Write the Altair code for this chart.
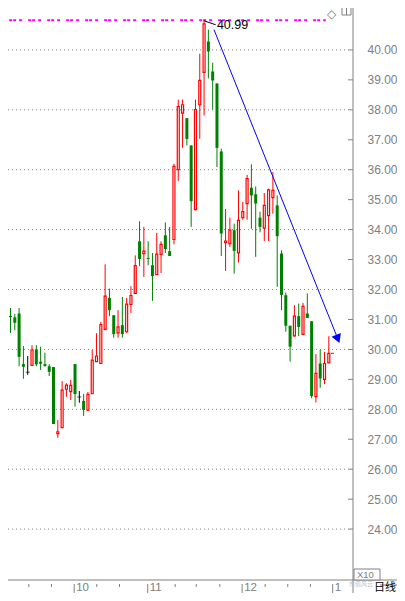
import altair as alt
import pandas as pd

# ---------------- data ----------------
opens = [30.95, 31.12, 31.07, 31.20, 29.51, 29.24, 29.47, 30.00, 29.59, 29.51,
         29.44, 29.41, 27.19, 27.39, 28.67, 28.59, 29.51, 28.41, 28.28, 27.97,
         28.52, 29.59, 29.53, 30.67, 31.72, 31.14, 30.55, 30.81, 30.59, 31.50,
         31.87, 33.61, 33.20, 33.05, 32.81, 32.50, 33.17, 33.81, 33.28, 33.67,
         36.00, 37.89, 37.72, 36.81, 34.67, 38.17, 39.25, 40.28, 39.28, 38.88,
         36.61, 33.57, 33.53, 33.98, 33.22, 34.40, 34.87, 35.40, 35.18, 34.40,
         34.05, 34.47, 35.07, 34.81, 33.20, 31.81, 30.79, 30.45, 31.11, 30.50,
         31.20, 30.94, 28.42, 29.53, 29.00, 29.55]
highs = [31.20, 31.38, 31.18, 31.38, 30.11, 29.78, 30.14, 30.14, 30.09, 29.89,
         29.51, 29.41, 27.64, 28.94, 28.87, 28.98, 29.51, 28.61, 28.51, 28.58,
         29.98, 30.54, 30.92, 32.84, 32.03, 31.14, 31.31, 31.75, 31.72, 32.11,
         33.14, 34.28, 34.09, 33.61, 33.22, 33.89, 33.61, 34.24, 34.09, 36.20,
         38.34, 38.34, 37.72, 36.81, 38.34, 39.87, 40.99, 40.68, 39.57, 38.88,
         36.70, 34.69, 34.40, 34.20, 35.31, 34.92, 35.83, 36.18, 35.44, 34.60,
         35.22, 35.37, 35.92, 35.14, 33.31, 31.90, 30.79, 31.48, 31.53, 31.55,
         31.87, 30.94, 29.84, 29.98, 29.92, 30.44]
lows = [30.80, 30.55, 30.64, 29.44, 29.02, 29.15, 29.45, 29.44, 29.31, 29.42,
        29.11, 27.51, 27.05, 27.39, 28.42, 28.31, 28.09, 28.22, 27.78, 27.95,
        28.52, 29.59, 29.53, 30.64, 31.11, 30.39, 30.39, 30.39, 30.55, 31.22,
        31.87, 32.78, 32.42, 32.81, 31.62, 32.50, 32.55, 33.22, 33.12, 33.51,
        35.62, 36.73, 36.81, 34.09, 34.67, 37.03, 37.81, 39.05, 38.01, 36.09,
        33.12, 32.62, 33.42, 32.53, 32.90, 34.33, 34.33, 34.03, 33.09, 33.91,
        33.62, 33.62, 34.53, 32.09, 31.31, 30.59, 29.59, 30.42, 30.44, 30.50,
        31.05, 28.37, 28.23, 28.72, 28.84, 29.55]
closes = [31.12, 31.08, 30.89, 29.75, 29.42, 29.24, 29.98, 29.50, 29.52, 29.45,
          29.25, 27.51, 27.25, 28.64, 28.81, 28.80, 28.51, 28.41, 27.98, 28.50,
          29.64, 29.78, 30.83, 31.78, 31.31, 30.51, 30.75, 30.51, 31.51, 31.80,
          32.80, 33.02, 33.28, 33.02, 32.45, 33.18, 33.51, 33.35, 33.12, 36.11,
          38.11, 38.17, 37.03, 34.95, 38.01, 38.98, 40.87, 39.95, 38.98, 36.73,
          33.87, 33.62, 33.98, 33.29, 34.31, 34.60, 35.70, 35.14, 34.87, 34.09,
          34.81, 35.33, 35.31, 33.78, 31.82, 30.79, 30.09, 31.11, 30.75, 31.44,
          31.05, 28.44, 29.20, 29.03, 29.53, 29.87]

price_ticks = list(range(24, 41))
grid_prices = list(range(24, 41, 2))
month_labels = ["10", "11", "12", "1"]
month_pos = [15.8, 32.9, 54.85, 75.9]
week_ticks = [5.26, 10.54, 21.06, 26.34, 39.28, 44.18, 49.66, 60.2, 65.46, 70.72]
peak_price = 40.99
peak_label = "40.99"
peak_line_x = [0.68, 74.3]
trend_x = [48.3, 77.1]
trend_p = [40.68, 30.35]
leader_x = [46.05, 48.7]
leader_p = [40.97, 40.84]
label_pos = [48.98, 40.82]
last_mark_x = 75.85

# ---------------- layout ----------------
W, H = 345, 572
RP, BP = 44, 13          # right / bottom room (svg = 389 x 585)
GRAY = "#808080"
RED = "#ff0000"
GREEN = "#008000"

xs = alt.Scale(domain=[1.58, 79.46], nice=False, zero=False)
ys = alt.Scale(domain=[22.30, 41.40], nice=False, zero=False)
yaxis = alt.Axis(orient="right", values=price_ticks, format=".2f", grid=False,
                 ticks=False, domain=False, labelColor=GRAY, labelFont="Liberation Sans",
                 labelFontSize=12, labelPadding=14, labelAlign="left",
                 labelBaseline="middle", title=None, labelFlush=False)


def X(f):
    return alt.X(f, type="quantitative", scale=xs, axis=None)


def Y(f):
    return alt.Y(f, type="quantitative", scale=ys, axis=yaxis)


kinds = []
for o, c in zip(opens, closes):
    kinds.append("up" if c > o else ("down" if c < o else "flat"))
cols = {"up": RED, "down": GREEN, "flat": "#000000"}
df = pd.DataFrame({"i": list(range(len(opens))), "open": opens, "high": highs,
                   "low": lows, "close": closes, "kind": kinds})
df["col"] = df["kind"].map(cols)

one = pd.DataFrame({"a": [0]})

grid = alt.Chart(pd.DataFrame({"p": grid_prices})).mark_rule(
    color=GRAY, strokeDash=[1, 3], strokeWidth=1).encode(
    y=Y("p"), x=alt.value(0), x2=alt.value(W - 5))
inticks = alt.Chart(pd.DataFrame({"p": price_ticks})).mark_rule(
    color=GRAY, strokeWidth=1).encode(
    y=Y("p"), x=alt.value(W - 5), x2=alt.value(W))
vline = alt.Chart(one).mark_rule(color=GRAY, strokeWidth=1).encode(
    x=alt.value(W), y=alt.value(0), y2=alt.value(H + BP))
bline = alt.Chart(one).mark_rule(color=GRAY, strokeWidth=1).encode(
    x=alt.value(0), x2=alt.value(W + RP), y=alt.value(H))
bline2 = alt.Chart(one).mark_rule(color=GRAY, strokeWidth=1).encode(
    x=alt.value(W + 27), x2=alt.value(W + RP), y=alt.value(H + 5))

peak_df = pd.DataFrame({"x0": [peak_line_x[0]], "x1": [peak_line_x[1]], "p": [peak_price]})
magenta = alt.Chart(peak_df).mark_rule(color="#ff00ff", strokeWidth=2,
                                       strokeDash=[3, 1, 3, 3, 3, 6], clip=True).encode(
    x=X("x0"), x2=alt.X2("x1"), y=Y("p"))

wicks = alt.Chart(df).mark_rule(strokeWidth=1, clip=True).encode(
    x=X("i"), y=Y("low"), y2=alt.Y2("high"), color=alt.Color("col:N", scale=None))
down = alt.Chart(df[df.kind == "down"]).mark_bar(width=3, color=GREEN, clip=True).encode(
    x=X("i"), y=Y("open"), y2=alt.Y2("close"))
up = alt.Chart(df[df.kind == "up"]).mark_bar(width=2, fill="#ffffff", stroke=RED,
                                             strokeWidth=1.2, clip=True).encode(
    x=X("i"), y=Y("open"), y2=alt.Y2("close"))
flat = alt.Chart(df[df.kind == "flat"]).mark_tick(orient="horizontal", size=4,
                                                  thickness=1, color="#000000").encode(
    x=X("i"), y=Y("open"))

trend_df = pd.DataFrame({"i": trend_x, "p": trend_p})
trend = alt.Chart(trend_df).mark_line(color="#0000ff", strokeWidth=1, clip=True).encode(
    x=X("i"), y=Y("p"))
arrow = alt.Chart(trend_df.iloc[[1]]).mark_point(
    shape="triangle-up", filled=True, size=100, angle=157.6, color="#0000ff",
    opacity=1).encode(x=X("i"), y=Y("p"))

leader = alt.Chart(pd.DataFrame({"i": leader_x, "p": leader_p})).mark_line(
    color="#000000", strokeWidth=1).encode(x=X("i"), y=Y("p"))
plabel = alt.Chart(pd.DataFrame({"i": [label_pos[0]], "p": [label_pos[1]],
                                 "t": [peak_label]})).mark_text(
    align="left", baseline="middle", fontSize=12.5, font="Liberation Sans",
    color="#000000").encode(x=X("i"), y=Y("p"), text="t:N")

lastmark = alt.Chart(pd.DataFrame({"i": [last_mark_x], "p": [closes[-1]]})).mark_tick(
    orient="horizontal", size=3, thickness=1, color="#000000").encode(x=X("i"), y=Y("p"))

mdf = pd.DataFrame({"m": month_pos, "lab": month_labels})
msep = alt.Chart(mdf).mark_rule(color=GRAY, strokeWidth=1).encode(
    x=X("m"), y=alt.value(H + 4), y2=alt.value(H + BP))
mlab = alt.Chart(mdf).mark_text(align="left", baseline="bottom", dx=2, fontSize=11.5,
                                font="Liberation Sans", color=GRAY).encode(
    x=X("m"), y=alt.value(H + BP), text="lab:N")
wt = alt.Chart(pd.DataFrame({"w": week_ticks})).mark_rule(color=GRAY, strokeWidth=1).encode(
    x=X("w"), y=alt.value(H + 4), y2=alt.value(H + 7))

diamond = alt.Chart(pd.DataFrame({"t": ["\u25c7"]})).mark_text(
    fontSize=12, font="DejaVu Sans", color=GRAY, baseline="middle", align="center").encode(
    x=alt.value(323.7), y=alt.value(6), text="t:N")
winbox = alt.Chart(one).mark_rect(fill="#ffffff", stroke=GRAY, strokeWidth=1).encode(
    x=alt.value(334), x2=alt.value(343), y=alt.value(-2), y2=alt.value(7))
winbar = alt.Chart(one).mark_rule(color=GRAY, strokeWidth=1).encode(
    x=alt.value(338.5), y=alt.value(0), y2=alt.value(7))

x10box = alt.Chart(one).mark_rect(
    fill="#ffffff", stroke=GRAY, strokeWidth=1).encode(
    x=alt.value(W + 1), x2=alt.value(W + 27), y=alt.value(H - 11), y2=alt.value(H))
x10txt = alt.Chart(pd.DataFrame({"t": ["X10"]})).mark_text(
    align="left", baseline="alphabetic", fontSize=9.5, font="Liberation Sans",
    color=GRAY).encode(x=alt.value(W + 4), y=alt.value(H - 2.5), text="t:N")
wm = alt.Chart(pd.DataFrame({"t": ["市值风云"]})).mark_text(
    align="center", baseline="middle", fontSize=6, font="Noto Sans CJK SC",
    color="#b8b8b8", opacity=0.9).encode(x=alt.value(W + 8), y=alt.value(H + 4), text="t:N")
rixian = alt.Chart(pd.DataFrame({"t": ["日线"]})).mark_text(
    align="center", baseline="bottom", fontSize=11, font="Noto Sans CJK SC",
    color="#000000").encode(x=alt.value(W + 32), y=alt.value(H + BP), text="t:N")

chart = alt.layer(
    grid, inticks, magenta, wicks, down, up, flat, trend, arrow, leader, plabel,
    lastmark, vline, bline, bline2, msep, mlab, wt, diamond, winbox, winbar,
    x10box, x10txt, wm, rixian
).properties(
    width=W, height=H,
    autosize=alt.AutoSizeParams(type="none"),
    padding={"left": 0, "top": 0, "right": RP, "bottom": BP},
    background="#ffffff",
).configure_view(stroke=None)

chart.save("out.html", embed_options={"renderer": "svg", "actions": False})
